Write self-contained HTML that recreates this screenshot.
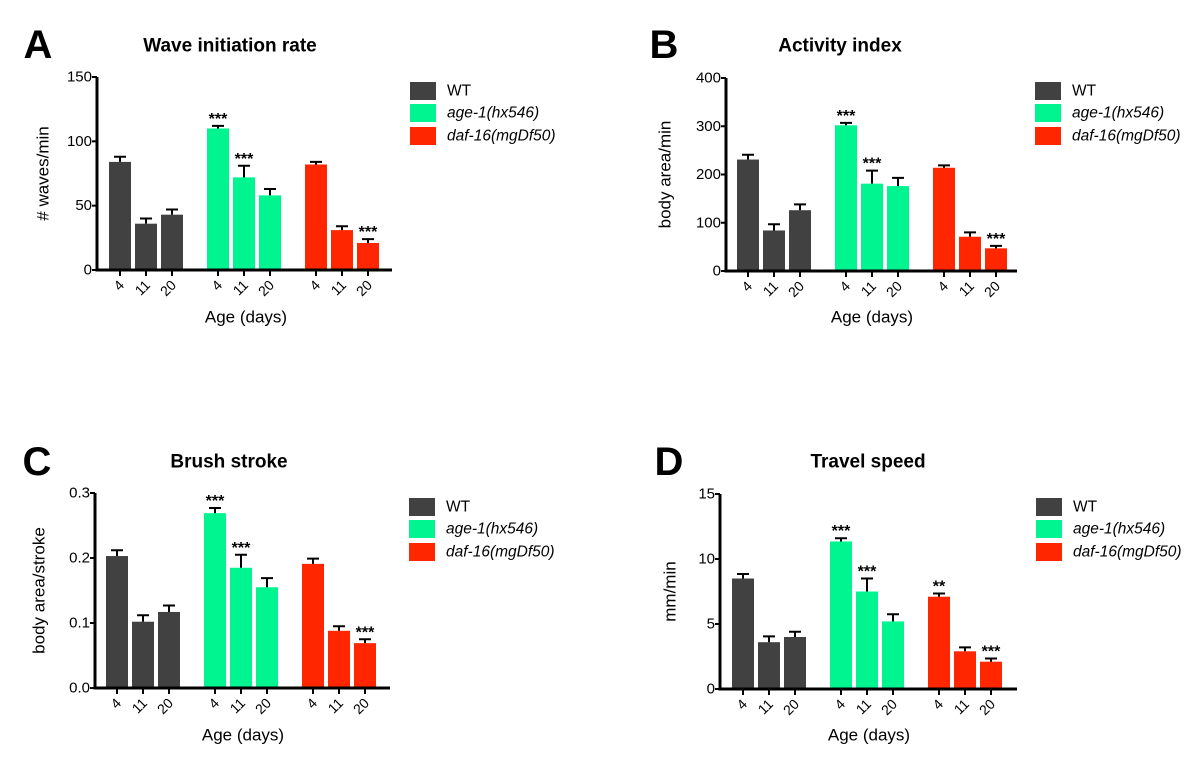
<!DOCTYPE html>
<html><head><meta charset="utf-8"><style>
html,body{margin:0;padding:0;background:#fff;}
svg{display:block;font-family:"Liberation Sans",sans-serif;}
</style></head><body>
<svg id="fig" width="1200" height="768" viewBox="0 0 1200 768"></svg>
<script>
const categories = ["4","11","20","4","11","20","4","11","20"];
const groupColors = ["#414141","#00F590","#FF2600"];
const legendLabels = ["WT","age-1(hx546)","daf-16(mgDf50)"];
const valuesA = [84,36,43,110,72,58,82,31,21];
const errorsA = [4,4,4,2,9,5,2,3,3];
const starsA = ["","","","***","***","","","","***"];
const ticksA = [0,50,100,150];
const valuesB = [231,84,126,302,181,176,214,71,47];
const errorsB = [10,13,12,5,27,17,5,9,5];
const starsB = ["","","","***","***","","","","***"];
const ticksB = [0,100,200,300,400];
const valuesC = [0.203,0.102,0.117,0.269,0.185,0.155,0.191,0.088,0.069];
const errorsC = [0.009,0.010,0.010,0.008,0.020,0.014,0.008,0.007,0.006];
const starsC = ["","","","***","***","","","","***"];
const ticksC = [0,0.1,0.2,0.3];
const tickLabelsC = ["0.0","0.1","0.2","0.3"];
const valuesD = [8.5,3.6,4.0,11.35,7.5,5.2,7.1,2.9,2.1];
const errorsD = [0.35,0.45,0.4,0.25,1.0,0.55,0.25,0.3,0.25];
const starsD = ["","","","***","***","","**","","***"];
const ticksD = [0,5,10,15];

const NS="http://www.w3.org/2000/svg";
const svg=document.getElementById('fig');
function mk(tag,attrs,parent,text){const e=document.createElementNS(NS,tag);for(const k in attrs)e.setAttribute(k,attrs[k]);if(text!==undefined)e.textContent=text;(parent||svg).appendChild(e);return e;}

function panel(p){
  const g=mk('g',{});
  
  
  const yMax=p.ticks[p.ticks.length-1];
  const y=v=>p.base-(v/yMax)*(p.base-p.top);
  const xBar=i=>p.bar0+Math.floor(i/3)*98+(i%3)*26;
  const L=mk('text',{x:p.lx,y:p.ly,'font-size':40,'font-weight':'bold','text-anchor':'middle','dominant-baseline':'central'},g,p.id.toUpperCase());
  
  
  const T=mk('text',{x:p.tx,y:p.ty,'font-size':19,'font-weight':'bold','text-anchor':'middle','dominant-baseline':'central'},g,p.title);
  
  
  p.values.forEach((v,i)=>{
    const x=xBar(i);
    const r=mk('rect',{x:x,y:y(v),width:22,height:p.base-y(v),fill:groupColors[Math.floor(i/3)]},g);
    
    
    const ye=y(v+p.errors[i]);
    const eb=mk('path',{d:`M${x+11},${y(v)}V${ye}M${x+5},${ye}H${x+17}`,stroke:'#000','stroke-width':2,fill:'none'},g);
    
    
    if(p.stars[i]){
      const s=mk('text',{x:x+11,y:ye-2,'font-size':16,'font-weight':'bold','text-anchor':'middle'},g,p.stars[i]);
      
      
    }
    const tk=mk('line',{x1:x+11,x2:x+11,y1:p.base,y2:p.base+6,stroke:'#000','stroke-width':2},g);
    
    
    const tl=mk('text',{x:x+16,y:p.base+16,'font-size':14,'text-anchor':'end',transform:`rotate(-45 ${x+16} ${p.base+16})`},g,categories[i]);
    
    
  });
  const ax=mk('path',{d:`M${p.axisX},${p.top}V${p.base}H${p.axisEnd}`,stroke:'#000','stroke-width':3,fill:'none'},g);
  
  
  p.ticks.forEach((t,i)=>{
    const yt=mk('line',{x1:p.axisX-5,x2:p.axisX,y1:y(t),y2:y(t),stroke:'#000','stroke-width':2},g);
    
    
    const lab=mk('text',{x:p.axisX-5,y:y(t),'font-size':15,'text-anchor':'end','dominant-baseline':'central'},g,p.tickLabels?p.tickLabels[i]:String(t));
    
    
  });
  const yl=mk('text',{x:p.yx,y:(p.top+p.base)/2,'font-size':17,'text-anchor':'middle','dominant-baseline':'central',transform:`rotate(-90 ${p.yx} ${(p.top+p.base)/2})`},g,p.ytitle);
  
  
  const xl=mk('text',{x:p.agex,y:p.agey,'font-size':17,'text-anchor':'middle','dominant-baseline':'central'},g,'Age (days)');
  
  
  legendLabels.forEach((lab,k)=>{
    const cy=p.rows[k];
    const lr=mk('rect',{x:p.legX,y:cy-9,width:26,height:18,fill:groupColors[k]},g);
    
    
    const lt=mk('text',{x:p.legX+37,y:cy,'font-size':15.5,'font-style':k?'italic':'normal','dominant-baseline':'central'},g,lab);
    
    
  });
}
panel({id:'a',title:'Wave initiation rate',values:valuesA,errors:errorsA,stars:starsA,ticks:ticksA,ytitle:'# waves/min',
  axisX:97,base:270,top:77,bar0:109,axisEnd:392,legX:410,rows:[91,113,136],tx:230,ty:46,lx:38,ly:45,yx:43,agex:246,agey:317});
panel({id:'b',title:'Activity index',values:valuesB,errors:errorsB,stars:starsB,ticks:ticksB,ytitle:'body area/min',
  axisX:726,base:271,top:78,bar0:737,axisEnd:1017,legX:1035,rows:[91,113,136],tx:840,ty:46,lx:664,ly:45,yx:665,agex:872,agey:317});
panel({id:'c',title:'Brush stroke',values:valuesC,errors:errorsC,stars:starsC,ticks:ticksC,tickLabels:tickLabelsC,ytitle:'body area/stroke',
  axisX:95,base:688,top:493,bar0:106,axisEnd:390,legX:409,rows:[507,529,552],tx:229,ty:462,lx:37,ly:462,yx:39,agex:243,agey:735});
panel({id:'d',title:'Travel speed',values:valuesD,errors:errorsD,stars:starsD,ticks:ticksD,ytitle:'mm/min',
  axisX:720,base:689,top:494,bar0:732,axisEnd:1017,legX:1036,rows:[507,529,552],tx:868,ty:462,lx:669,ly:462,yx:670,agex:869,agey:735});
</script>
</body></html>
